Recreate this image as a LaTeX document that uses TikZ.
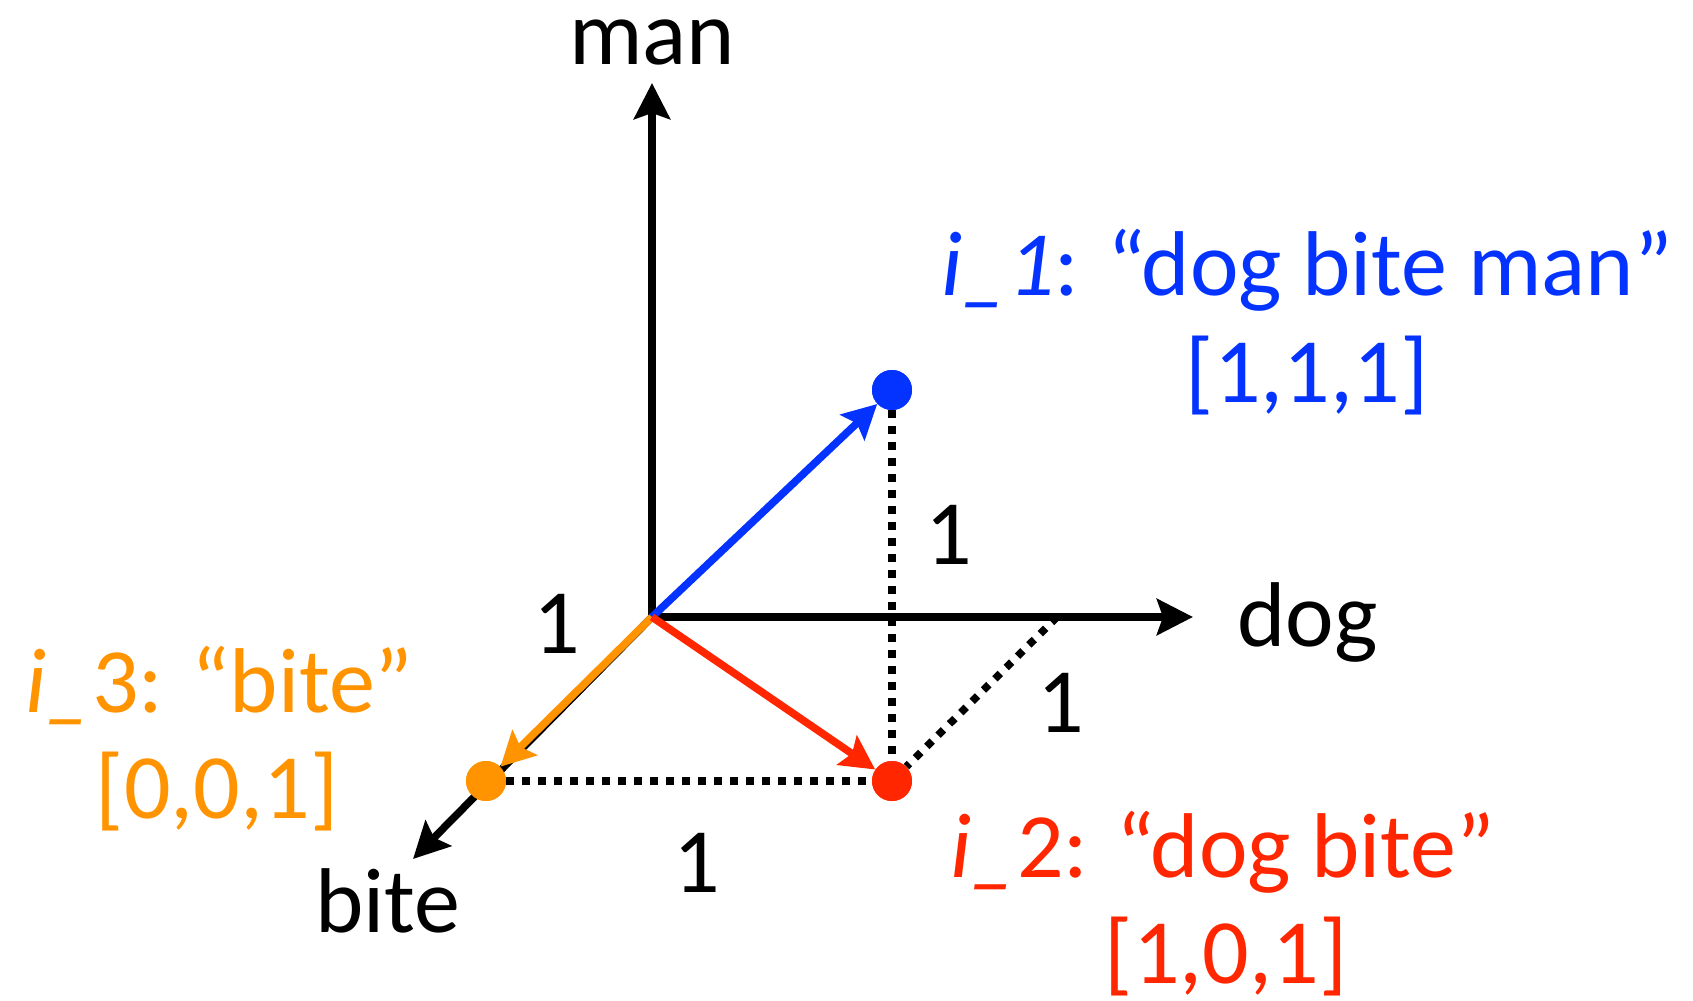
\documentclass[tikz,border=0pt]{standalone}
\usepackage{fontspec}
\setmainfont{Carlito}
\usetikzlibrary{arrows.meta}
\definecolor{kblue}{HTML}{0433FF}
\definecolor{kred}{HTML}{FF2600}
\definecolor{korange}{HTML}{FF9300}
\tikzset{
  axis/.style={line width=3.8pt, black, -{Stealth[length=18pt,width=18pt,inset=3pt]}},
  vec/.style={line width=3.8pt, -{Stealth[length=17pt,width=17.5pt,inset=3pt]}},
  dotline/.style={line width=3.8pt, black, dash pattern=on 3.8pt off 4.2pt},
  pt/.style={circle, minimum size=20pt, inner sep=0pt, draw=none},
  lbl/.style={inner sep=0pt, font=\fontsize{46}{55}\selectfont},
}
\begin{document}
\begin{tikzpicture}[x=0.5pt,y=-0.5pt]
\useasboundingbox (0,0) rectangle (1693,1001);
% coordinates
\coordinate (O) at (652,617);
\coordinate (manend) at (652,83);
\coordinate (dogend) at (1193,617);
\coordinate (biteend) at (413,859);
\coordinate (dogone) at (1057,617);
% points
\node[pt, fill=kblue] (p1) at (892,390) {};
\node[pt, fill=kred] (p2) at (892,781) {};
\node[pt, fill=korange] (p3) at (486,781) {};
% axes
\draw[axis] (O) -- (manend);
\draw[axis] (O) -- (dogend);
\draw[axis] (O) -- (biteend);
% dotted guides
\draw[dotline] (p1.south) -- (p2.north);
\draw[dotline] (dogone) -- (p2);
\draw[dotline] (p3.east) -- (p2.west);
% vectors
\draw[vec, korange] (O) -- (p3);
\draw[vec, kblue] (O) -- (p1);
\draw[vec, kred] (O) -- (p2);
% redraw points on top
\node[pt, fill=kblue] at (p1) {};
\node[pt, fill=kred] at (p2) {};
\node[pt, fill=korange] at (p3) {};
% axis labels
\node[lbl, anchor=base, text height=1.2ex] (lman) at (652,64) {man};
\node[lbl, anchor=base west] (ldog) at (1237,646) {dog};
\node[lbl, anchor=base west] (lbite) at (315,932) {bite};
% unit labels
\node[lbl, anchor=base] (u1) at (557,653) {1};
\node[lbl, anchor=base] (u2) at (949,564) {1};
\node[lbl, anchor=base] (u3) at (1061,732) {1};
\node[lbl, anchor=base] (u4) at (697,892) {1};
% vector labels
\node[lbl, anchor=base west, text=kblue] (t1) at (941,295) {\textit{i\_1}: “dog bite man”};
\node[lbl, anchor=base, text=kblue] (v1) at (1307,402) {[1,1,1]};
\node[lbl, anchor=base west, text=kred] (t2) at (950,877) {\textit{i\_}2: “dog bite”};
\node[lbl, anchor=base, text=kred, text depth=0pt] (v2) at (1226,983) {[1,0,1]};
\node[lbl, anchor=base west, text=korange] (t3) at (25,712) {\textit{i\_}3: “bite”};
\node[lbl, anchor=base, text=korange] (v3) at (217,818) {[0,0,1]};
\end{tikzpicture}
\end{document}
